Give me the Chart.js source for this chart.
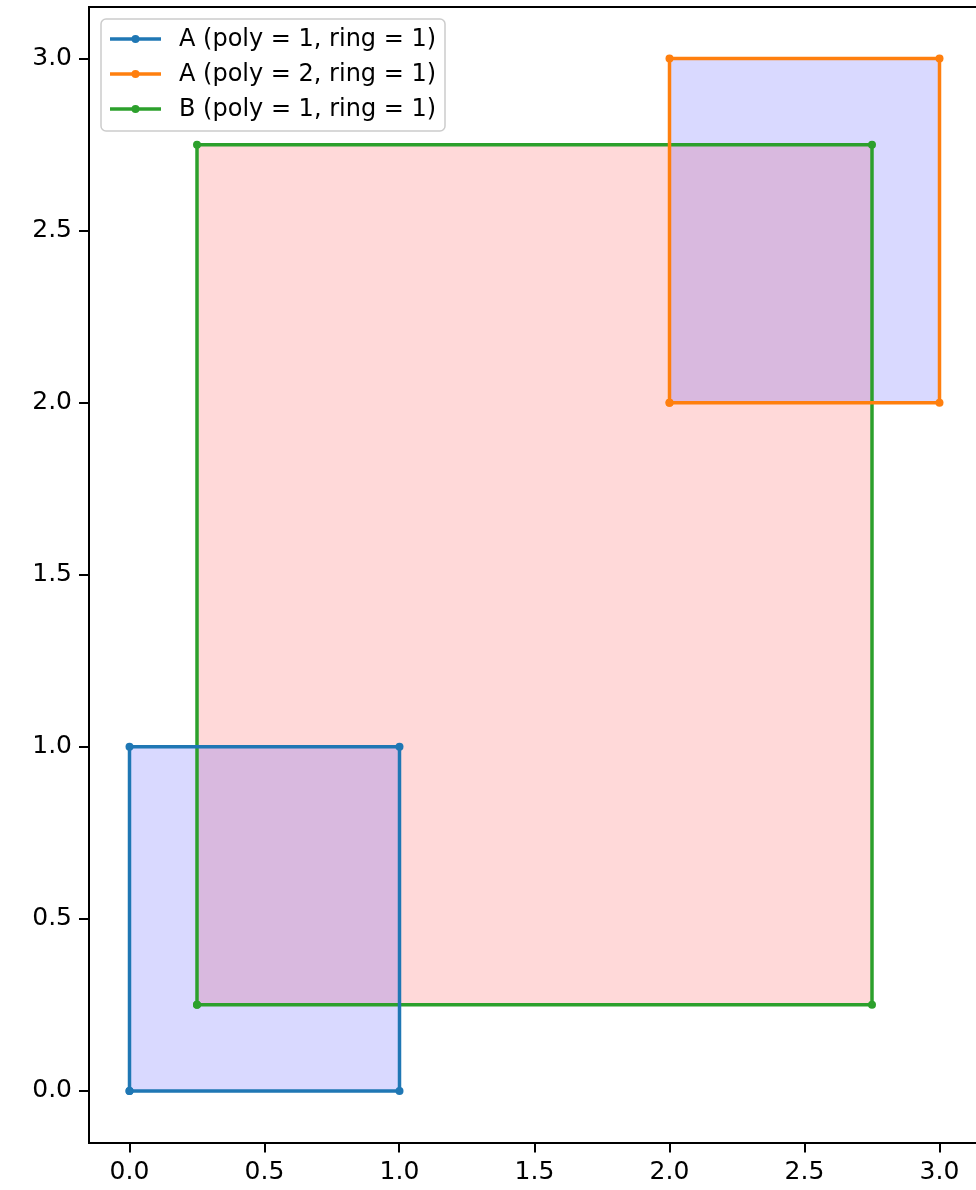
<!DOCTYPE html>
<html>
<head>
<meta charset="utf-8">
<script src="https://cdn.jsdelivr.net/npm/chart.js@4.4.1/dist/chart.umd.min.js"></script>
<style>
  html, body { margin: 0; padding: 0; background: #fff; overflow: hidden; }
  #wrap { width: 984px; height: 1190px; }
</style>
</head>
<body>
<div id="wrap"><canvas id="myChart" width="984" height="1190"></canvas></div>
<script>
// polygon outlines (closed rings)
var polyA1X = [0, 1, 1, 0, 0];
var polyA1Y = [0, 0, 1, 1, 0];
var polyA2X = [2, 3, 3, 2, 2];
var polyA2Y = [2, 2, 3, 3, 2];
var polyB1X = [0.25, 2.75, 2.75, 0.25, 0.25];
var polyB1Y = [0.25, 0.25, 2.75, 2.75, 0.25];

var labels = ['A (poly = 1, ring = 1)', 'A (poly = 2, ring = 1)', 'B (poly = 1, ring = 1)'];
var lineColors = ['#1f77b4', '#ff7f0e', '#2ca02c'];
var fillColors = ['rgba(0,0,255,0.15)', 'rgba(0,0,255,0.15)', 'rgba(255,0,0,0.15)'];

var xTicks = [0, 0.5, 1, 1.5, 2, 2.5, 3];
var yTicks = [0, 0.5, 1, 1.5, 2, 2.5, 3];

var FONT = "'DejaVu Sans', sans-serif";

function pts(xs, ys) {
  return xs.map(function (x, i) { return { x: x, y: ys[i] }; });
}

var rings = [pts(polyA1X, polyA1Y), pts(polyA2X, polyA2Y), pts(polyB1X, polyB1Y)];

var datasets = rings.map(function (r, i) {
  return {
    label: labels[i],
    data: r,
    showLine: true,
    fill: 'shape',
    borderColor: lineColors[i],
    backgroundColor: fillColors[i],
    borderWidth: 3.5,
    pointRadius: 4,
    pointBackgroundColor: lineColors[i],
    pointBorderWidth: 0,
    tension: 0
  };
});

// matplotlib-like frame top edge + legend box inside the axes
var mplLegend = {
  id: 'mplLegend',
  afterDraw: function (chart) {
    var c = chart.ctx, a = chart.chartArea;
    c.save();
    c.strokeStyle = '#000';
    c.lineWidth = 2;
    c.beginPath();
    c.moveTo(a.left - 1, a.top);
    c.lineTo(a.right, a.top);
    c.stroke();

    var bx = 101, by = 19, bw = 344, bh = 112, r = 5;
    c.beginPath();
    c.roundRect(bx, by, bw, bh, r);
    c.fillStyle = 'rgba(255,255,255,0.8)';
    c.fill();
    c.strokeStyle = '#cccccc';
    c.lineWidth = 1.5;
    c.stroke();

    c.font = '24px ' + FONT;
    c.textBaseline = 'middle';
    labels.forEach(function (t, i) {
      var y = 39 + i * 35;
      c.strokeStyle = lineColors[i];
      c.lineWidth = 3.5;
      c.beginPath();
      c.moveTo(110, y);
      c.lineTo(161, y);
      c.stroke();
      c.fillStyle = lineColors[i];
      c.beginPath();
      c.arc(135.5, y, 4, 0, Math.PI * 2);
      c.fill();
      c.fillStyle = '#000';
      c.fillText(t, 179, y + 1);
    });
    c.restore();
  }
};

var ctx = document.getElementById('myChart');
var myChart = new Chart(ctx, {
  type: 'scatter',
  data: { datasets: datasets },
  options: {
    responsive: false,
    animation: false,
    layout: { padding: { top: 7, right: 4, left: 0, bottom: 0 } },
    plugins: {
      legend: { display: false },
      tooltip: { enabled: false },
      filler: { drawTime: 'beforeDatasetsDraw' }
    },
    scales: {
      x: {
        type: 'linear',
        min: -0.15,
        max: 3.15,
        afterBuildTicks: function (s) { s.ticks = xTicks.map(function (v) { return { value: v }; }); },
        afterFit: function (s) { s.height = 47.5; s.paddingLeft = 0; s.paddingRight = 0; },
        grid: { drawOnChartArea: false, drawTicks: true, tickLength: 10, color: '#000', lineWidth: 2 },
        border: { display: true, color: '#000', width: 2 },
        ticks: {
          color: '#000',
          padding: 5,
          maxRotation: 0,
          font: { family: FONT, size: 25 },
          callback: function (v) { return v.toFixed(1); }
        }
      },
      y: {
        type: 'linear',
        min: -0.15,
        max: 3.15,
        afterBuildTicks: function (s) { s.ticks = yTicks.map(function (v) { return { value: v }; }); },
        afterFit: function (s) { s.width = 89; s.paddingTop = 0; s.paddingBottom = 0; },
        grid: { drawOnChartArea: false, drawTicks: true, tickLength: 10, color: '#000', lineWidth: 2 },
        border: { display: true, color: '#000', width: 2 },
        ticks: {
          color: '#000',
          padding: 7,
          font: { family: FONT, size: 25 },
          callback: function (v) { return v.toFixed(1); }
        }
      }
    }
  },
  plugins: [mplLegend]
});
</script>
</body>
</html>
